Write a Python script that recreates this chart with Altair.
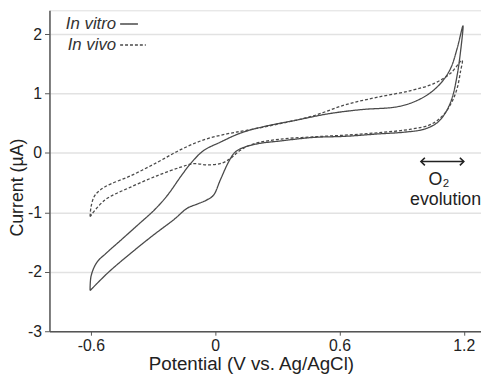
import altair as alt
import pandas as pd

# In vitro (solid) closed CV loop, in path order
vitro_x = [-0.604, -0.599, -0.572, -0.524, -0.453, -0.373, -0.294, -0.230, -0.167, -0.119, -0.056,
           0.024, 0.119, 0.230, 0.389, 0.548, 0.707, 0.866, 0.945, 1.025, 1.088, 1.136, 1.168, 1.196,
           1.184, 1.168, 1.144, 1.112, 1.072, 1.009, 0.914, 0.786, 0.628, 0.469, 0.310, 0.214, 0.135,
           0.095, 0.064, 0.024, -0.008, -0.040, -0.087, -0.135, -0.199, -0.294, -0.405, -0.516, -0.604]
vitro_y = [-2.316, -2.07, -1.845, -1.68, -1.46, -1.21, -0.96, -0.71, -0.40, -0.18, 0.04,
           0.18, 0.33, 0.44, 0.55, 0.66, 0.73, 0.77, 0.84, 0.98, 1.17, 1.42, 1.76, 2.14,
           1.70, 1.31, 0.93, 0.68, 0.51, 0.40, 0.35, 0.32, 0.28, 0.26, 0.20, 0.16, 0.09,
           0.01, -0.155, -0.46, -0.71, -0.79, -0.86, -0.93, -1.12, -1.37, -1.68, -2.01, -2.316]

# In vivo (dashed) closed CV loop, in path order
vivo_x = [-0.604, -0.599, -0.580, -0.532, -0.405, -0.278, -0.167, -0.056, 0.056, 0.151, 0.310,
          0.469, 0.628, 0.786, 0.945, 1.057, 1.136, 1.192,
          1.184, 1.168, 1.144, 1.104, 1.041, 0.945, 0.786, 0.628, 0.469, 0.310, 0.183, 0.119,
          0.071, 0.024, -0.040, -0.103, -0.167, -0.278, -0.405, -0.532, -0.604]
vivo_y = [-1.07, -0.90, -0.71, -0.57, -0.38, -0.155, 0.055, 0.22, 0.32, 0.38, 0.49,
          0.62, 0.81, 0.94, 1.05, 1.17, 1.34, 1.56,
          1.37, 1.09, 0.87, 0.65, 0.48, 0.40, 0.34, 0.30, 0.27, 0.23, 0.15, 0.04,
          -0.10, -0.18, -0.20, -0.18, -0.24, -0.38, -0.57, -0.79, -1.07]

series_names = ["In vitro", "In vivo"]
x_ticks = [-0.6, 0, 0.6, 1.2]
y_ticks = [-3, -2, -1, 0, 1, 2]
x_domain = [-0.80, 1.283]
y_domain = [-3, 2.4]

# legend (in data coordinates)
legend_text_x = [-0.478, -0.478]
legend_y = [2.17, 1.815]
legend_line_x1 = [-0.459, -0.459]
legend_line_x2 = [-0.373, -0.335]

# O2 evolution annotation
arrow_x = [1.012, 0.993, 1.012, None, 0.993, 1.200, None, 1.181, 1.200, 1.181]
arrow_y = [-0.08, -0.145, -0.21, None, -0.145, -0.145, None, -0.08, -0.145, -0.21]
annot_text = ["O₂", "evolution"]
annot_x = [1.08, 1.112]
annot_y = [-0.46, -0.80]

rows = []
for i, (x, y) in enumerate(zip(vitro_x, vitro_y)):
    rows.append({"series": "In vitro", "x": x, "y": y, "order": i})
for i, (x, y) in enumerate(zip(vivo_x, vivo_y)):
    rows.append({"series": "In vivo", "x": x, "y": y, "order": i})
curves = pd.DataFrame(rows)

legend_df = pd.DataFrame({"series": series_names, "tx": legend_text_x, "y": legend_y,
                          "x1": legend_line_x1, "x2": legend_line_x2})

arrow_rows = []
seg = 0
k = 0
for x, y in zip(arrow_x, arrow_y):
    if x is None:
        seg += 1
        continue
    arrow_rows.append({"x": x, "y": y, "seg": seg, "order": k})
    k += 1
arrow_df = pd.DataFrame(arrow_rows)
annot_df = pd.DataFrame({"t": annot_text, "x": annot_x, "y": annot_y})

FONT = "Liberation Sans"
INK = "#4a4a4a"

xs = alt.Scale(domain=x_domain, nice=False, zero=False)
ys = alt.Scale(domain=y_domain, nice=False, zero=False)
dash = alt.StrokeDash("series:N", scale=alt.Scale(domain=series_names, range=[[1, 0], [3, 2]]), legend=None)

x_axis = alt.Axis(values=x_ticks, title="Potential (V vs. Ag/AgCl)", grid=False,
                  labelExpr="toString(datum.value)", labelFontSize=16, titleFontSize=19,
                  labelFont=FONT, titleFont=FONT, labelColor="#222", titleColor="#222",
                  titleFontWeight="normal", domainColor="#555", domainWidth=1.5,
                  tickColor="#555", tickSize=4, labelPadding=2, labelFlush=False,
                  titleX=204, titleY=39, titleBaseline="alphabetic", titleAnchor="middle", titleAlign="center")
y_axis = alt.Axis(values=y_ticks, title="Current (µA)", grid=True, gridColor="#e2e2e2", gridWidth=1.5,
                  labelExpr="toString(datum.value)", labelFontSize=16, titleFontSize=18,
                  labelFont=FONT, titleFont=FONT, labelColor="#222", titleColor="#222",
                  titleFontWeight="normal", domainColor="#555", domainWidth=1.5,
                  tickColor="#555", tickSize=5, labelPadding=3,
                  titleX=-32, titleY=179, titleBaseline="middle", titleAngle=-90, titleAlign="center")

lines = alt.Chart(curves).mark_line(color=INK, strokeWidth=1.3, clip=True,
                                    interpolate="catmull-rom").encode(
    x=alt.X("x:Q", scale=xs, axis=x_axis),
    y=alt.Y("y:Q", scale=ys, axis=y_axis),
    order="order:Q",
    detail="series:N",
    strokeDash=dash,
)

leg_text = alt.Chart(legend_df).mark_text(font=FONT, fontSize=17, fontStyle="italic", align="right",
                                          baseline="middle", color="#333").encode(
    x=alt.X("tx:Q", scale=xs), y=alt.Y("y:Q", scale=ys), text="series:N")

leg_line = alt.Chart(legend_df).mark_rule(color=INK, strokeWidth=1.5).encode(
    x=alt.X("x1:Q", scale=xs), x2="x2:Q", y=alt.Y("y:Q", scale=ys), strokeDash=dash)

arrow = alt.Chart(arrow_df).mark_line(color="#222", strokeWidth=1.6).encode(
    x=alt.X("x:Q", scale=xs), y=alt.Y("y:Q", scale=ys), detail="seg:N", order="order:Q")

annot = alt.Chart(annot_df).mark_text(font=FONT, fontSize=18, align="center", baseline="middle",
                                      color="#222").encode(
    x=alt.X("x:Q", scale=xs), y=alt.Y("y:Q", scale=ys), text="t:N")

chart = alt.layer(lines, leg_line, leg_text, arrow, annot).properties(
    width=437, height=325,
    autosize=alt.AutoSizeParams(type="none"),
    padding={"left": 42, "top": 0, "right": 0, "bottom": 45},
).configure_view(stroke=None).configure(background="white")

chart.save("out.html", embed_options={"renderer": "svg", "actions": False})
